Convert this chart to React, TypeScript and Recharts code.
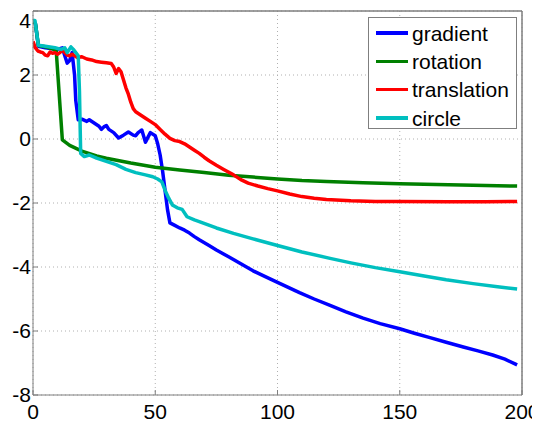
import { LineChart, Line, XAxis, YAxis, CartesianGrid, Legend, ReferenceLine } from 'recharts';

const X_TICKS = [0, 50, 100, 150, 200];
const Y_TICKS = [-8, -6, -4, -2, 0, 2, 4];

// [iteration, value] pairs for each run
const gradient: [number, number][] = [
  [0, 3.7], [1, 3.6], [2.2, 2.9], [5, 2.85], [8, 2.82], [10, 2.8], [12, 2.85], [13, 2.6],
  [14, 2.37], [15, 2.45], [16, 2.7], [17, 2.0], [17.5, 1.2], [18.5, 0.6], [20, 0.62],
  [22, 0.55], [23, 0.6], [25, 0.5], [27, 0.4], [28, 0.3], [29, 0.38], [30, 0.42], [31, 0.3],
  [33, 0.2], [35, 0.03], [37, 0.12], [39, 0.22], [41, 0.12], [42, 0.1], [43, 0.2],
  [44.5, 0.28], [46, -0.1], [47, 0.05], [48, 0.2], [50, 0.1], [51, -0.15], [52, -0.5],
  [53, -1.0], [54, -1.6], [55, -2.2], [56, -2.62], [58, -2.7], [60, -2.78], [62, -2.85],
  [64, -2.94], [66, -3.05], [68, -3.15], [72, -3.33], [75, -3.47], [80, -3.68], [85, -3.9],
  [90, -4.12], [95, -4.3], [100, -4.48], [109, -4.8], [115, -5.0], [121.5, -5.2], [128, -5.4],
  [135, -5.6], [142, -5.77], [150, -5.93], [156, -6.07], [162, -6.2], [169, -6.35],
  [176, -6.5], [182, -6.62], [188, -6.75], [193, -6.88], [198, -7.06],
];

const rotation: [number, number][] = [
  [0, 3.7], [1, 3.6], [2.2, 2.92], [5, 2.88], [8, 2.82], [9.5, 2.75], [12, -0.03], [15, -0.2],
  [20, -0.38], [26, -0.53], [30, -0.6], [40, -0.75], [50, -0.88], [60, -0.97], [70, -1.05],
  [80, -1.13], [90, -1.19], [100, -1.25], [110, -1.3], [120, -1.33], [135, -1.37],
  [150, -1.4], [175, -1.44], [198, -1.47],
];

const translation: [number, number][] = [
  [0, 3.05], [0.8, 2.87], [2, 2.75], [3, 2.72], [4, 2.7], [5, 2.62], [6, 2.6], [7, 2.72],
  [8, 2.68], [9, 2.7], [10, 2.65], [11, 2.7], [12, 2.78], [13, 2.7], [14, 2.62], [15, 2.6],
  [16, 2.65], [18, 2.55], [20, 2.57], [22, 2.5], [24, 2.47], [26, 2.42], [28, 2.4],
  [30, 2.38], [32, 2.36], [33, 2.25], [34, 2.05], [35, 2.2], [36, 2.1], [37, 1.85],
  [38, 1.6], [39, 1.4], [40, 1.15], [41, 0.95], [42, 0.85], [44, 0.75], [46, 0.65],
  [48, 0.55], [50, 0.45], [52, 0.3], [54, 0.15], [56, 0.02], [58, -0.05], [60, -0.08],
  [62, -0.15], [64, -0.25], [66, -0.35], [68, -0.45], [70, -0.57], [72, -0.68], [75, -0.82],
  [78, -0.95], [82, -1.12], [85, -1.27], [88, -1.38], [92, -1.47], [96, -1.55], [100, -1.62],
  [105, -1.72], [110, -1.8], [115, -1.85], [120, -1.89], [130, -1.93], [140, -1.95],
  [150, -1.95], [170, -1.96], [185, -1.96], [198, -1.95],
];

const circle: [number, number][] = [
  [0, 3.7], [0.8, 3.7], [2.2, 2.93], [5, 2.9], [9, 2.85], [11.5, 2.8], [13, 2.85], [14, 2.7],
  [15.5, 2.88], [16.5, 2.8], [17.5, 2.7], [18.5, 2.6], [19, 1.5], [19.5, -0.45], [21, -0.55],
  [23, -0.5], [26, -0.6], [30, -0.7], [34, -0.8], [38, -0.95], [42, -1.05], [46, -1.12],
  [49, -1.18], [51, -1.25], [52.7, -1.34], [54, -1.6], [55.5, -1.85], [57, -2.06],
  [59, -2.15], [61, -2.2], [63, -2.43], [66, -2.53], [68, -2.58], [75, -2.78], [82, -2.95],
  [90, -3.12], [100, -3.33], [110, -3.53], [121.5, -3.73], [130, -3.87], [140, -4.02],
  [150, -4.15], [160, -4.28], [169, -4.4], [180, -4.52], [190, -4.62], [198, -4.69],
];

const SERIES = [
  { name: 'gradient', color: '#0000ff', points: gradient },
  { name: 'rotation', color: '#008000', points: rotation },
  { name: 'translation', color: '#ff0000', points: translation },
  { name: 'circle', color: '#00bfbf', points: circle },
];

const AXIS_COLOR = '#7f7f7f';
const FONT = "'Liberation Sans', Arial, Helvetica, sans-serif";

const toRows = (pts: [number, number][]) => pts.map(([x, y]) => ({ x, y }));

function LegendBox() {
  return (
    <div
      style={{
        width: 149,
        height: 112,
        boxSizing: 'border-box',
        border: `1px solid ${AXIS_COLOR}`,
        background: '#fff',
        paddingTop: 1,
        fontFamily: FONT,
      }}
    >
      {SERIES.map((s) => (
        <div key={s.name} style={{ display: 'flex', alignItems: 'center', height: 28.3 }}>
          <div style={{ marginLeft: 7, width: 32, height: 3.5, background: s.color }} />
          <span style={{ marginLeft: 4, fontSize: 21, lineHeight: 1, color: '#000' }}>{s.name}</span>
        </div>
      ))}
    </div>
  );
}

const noLabel = () => <g />;

export default function App() {
  return (
    <div style={{ fontFamily: FONT }}>
      <LineChart width={532} height={418} margin={{ top: 2, right: 17, bottom: 0, left: 0 }}>
        <CartesianGrid stroke="#b0b0b0" strokeDasharray="1 3" />
        <XAxis
          dataKey="x"
          type="number"
          domain={[0, 200]}
          ticks={X_TICKS}
          height={31}
          tickSize={-5}
          tickMargin={14}
          stroke={AXIS_COLOR}
          tick={{ fill: '#000', fontSize: 21 }}
          allowDataOverflow
        />
        <XAxis
          xAxisId="top"
          orientation="top"
          dataKey="x"
          type="number"
          domain={[0, 200]}
          ticks={X_TICKS}
          height={1}
          tickSize={-5}
          stroke={AXIS_COLOR}
          tick={noLabel}
        />
        <YAxis
          type="number"
          domain={[-8, 4]}
          ticks={Y_TICKS}
          width={25}
          tickSize={-5}
          tickMargin={7}
          stroke={AXIS_COLOR}
          tick={{ fill: '#000', fontSize: 21 }}
          allowDataOverflow
        />
        <YAxis
          yAxisId="right"
          orientation="right"
          type="number"
          domain={[-8, 4]}
          ticks={Y_TICKS}
          width={1}
          tickSize={-5}
          stroke={AXIS_COLOR}
          tick={noLabel}
        />
        {/* closing frame on the top and right edges */}
        <ReferenceLine y={4} stroke={AXIS_COLOR} />
        <ReferenceLine x={200} stroke={AXIS_COLOR} />
        <Legend
          layout="vertical"
          align="center"
          verticalAlign="middle"
          wrapperStyle={{ top: 9, left: 360, width: 149 }}
          content={() => <LegendBox />}
        />
        {SERIES.map((s) => (
          <Line
            key={s.name}
            name={s.name}
            data={toRows(s.points)}
            dataKey="y"
            type="linear"
            stroke={s.color}
            strokeWidth={3.5}
            strokeLinejoin="round"
            dot={false}
            activeDot={false}
            isAnimationActive={false}
          />
        ))}
      </LineChart>
    </div>
  );
}
